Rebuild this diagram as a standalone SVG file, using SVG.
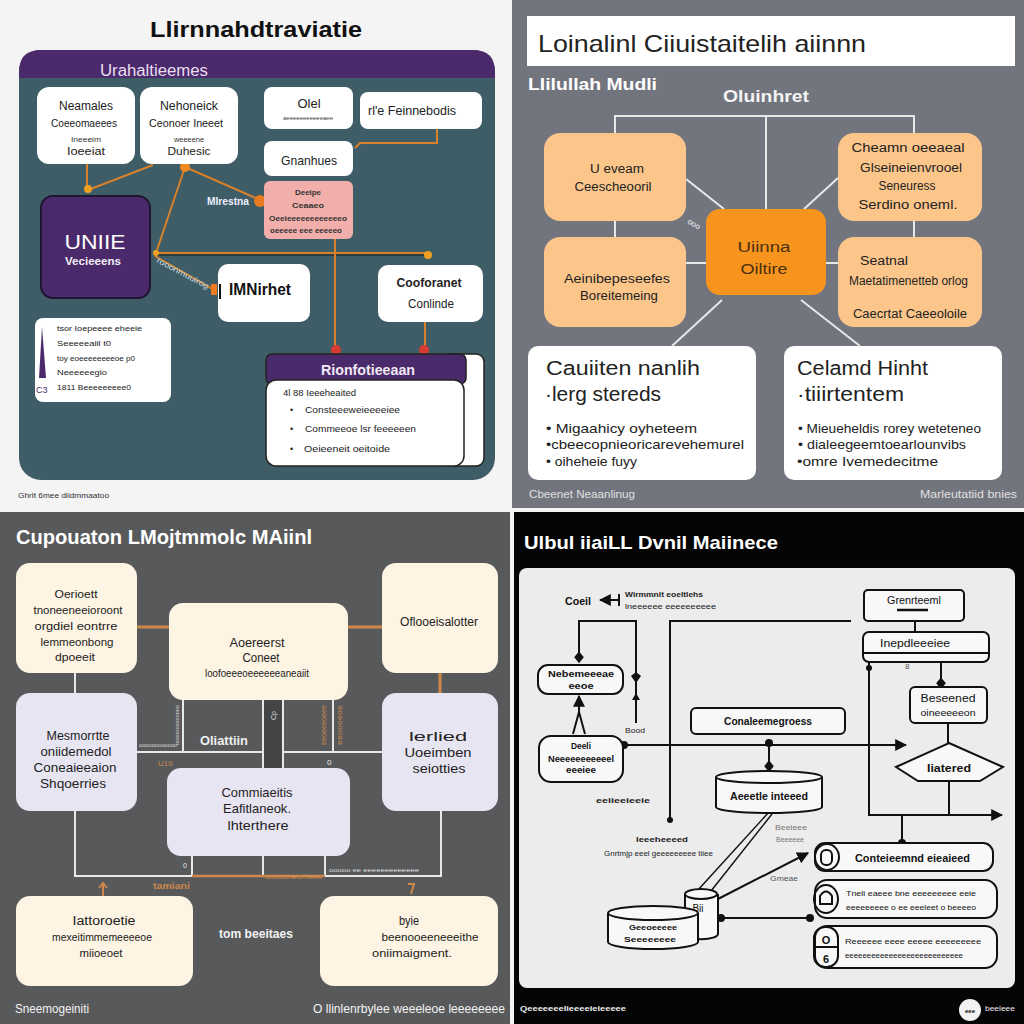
<svg xmlns="http://www.w3.org/2000/svg" width="1024" height="1024" viewBox="0 0 1024 1024">
<defs>
<style>
text{font-family:"Liberation Sans",Arial,sans-serif}
.b{font-weight:bold}
.m{text-anchor:middle}
.e{text-anchor:end}
.wn{fill:#fff}
.og{stroke:#d8812a;stroke-width:2;fill:none}
.wl{stroke:#e8e8e8;stroke-width:2;fill:none}
.ob{fill:#fcc68b}
.cr{fill:#fdf4e3}
.lv{fill:#e8e5f2}
.k{stroke:#111;stroke-width:2;fill:none}
.kb{stroke:#111;stroke-width:2;fill:#f8f8f8}
</style>
<marker id="ah" viewBox="0 0 10 10" refX="9" refY="5" markerWidth="6" markerHeight="6" orient="auto-start-reverse"><path d="M0,0 L10,5 L0,10 Z" fill="#111"/></marker>
<marker id="dot" viewBox="0 0 10 10" refX="5" refY="5" markerWidth="5" markerHeight="5"><circle cx="5" cy="5" r="4" fill="#111"/></marker>
<marker id="dia" viewBox="0 0 10 10" refX="9" refY="5" markerWidth="6" markerHeight="6" orient="auto"><path d="M0,5 L5,1 L10,5 L5,9 Z" fill="#111"/></marker>
</defs>

<!-- ============ Q1 ============ -->
<rect x="0" y="0" width="1024" height="1024" fill="#f4f4f4"/>
<g id="q1">
<text x="256" y="37" class="b m" font-size="22" fill="#111" textLength="212" lengthAdjust="spacingAndGlyphs">Llirnnahdtraviatie</text>
<rect x="19" y="50" width="476" height="430" rx="22" fill="#3e5d66"/>
<path d="M19,78 V72 Q19,50 41,50 H473 Q495,50 495,72 V78 Z" fill="#4b2a6b"/>
<text x="100" y="76" font-size="16" fill="#e8dff2" textLength="108" lengthAdjust="spacingAndGlyphs">Urahaltieemes</text>
</g>
<g id="q1-connectors">
<line x1="87" y1="164" x2="87" y2="188" class="og"/>
<line x1="88" y1="190" x2="153" y2="165" class="og"/>
<line x1="185" y1="167" x2="156" y2="253" class="og"/>
<line x1="185" y1="167" x2="258" y2="199" class="og"/>
<line x1="155" y1="255" x2="428" y2="255" stroke="#2a3a40" stroke-width="2"/>
<line x1="155" y1="253" x2="428" y2="253" class="og"/>
<line x1="155" y1="256" x2="214" y2="290" class="og"/>
<line x1="335" y1="239" x2="335" y2="350" class="og"/>
<line x1="425" y1="322" x2="425" y2="350" class="og"/>
<polyline points="437,129 437,143 360,143 355,148" class="og"/>
<circle cx="88" cy="189" r="4" fill="#f0a020"/>
<circle cx="185" cy="167" r="5" fill="#f08a20"/>
<circle cx="260" cy="201" r="6" fill="#e87a20"/>
<circle cx="156" cy="253" r="3" fill="#f0a020"/>
<circle cx="428" cy="255" r="4" fill="#f0a020"/>
<rect x="211" y="284" width="6" height="11" fill="#f07a20"/>
<circle cx="336" cy="350" r="5" fill="#d83a30"/>
<circle cx="424" cy="350" r="5" fill="#d83a30"/>
<text x="207" y="205" class="b" font-size="10" fill="#eef" textLength="42" lengthAdjust="spacingAndGlyphs">Mlrestna</text>
<text x="156" y="262" font-size="8" fill="#c8dce4" transform="rotate(28 156 262)" textLength="58" lengthAdjust="spacingAndGlyphs">rooonmuuirog</text>
</g>
<g id="q1-n-a">
<rect x="37" y="87" width="98" height="77" rx="12" fill="#fff"/>
<text x="86" y="110" class="m" font-size="12" fill="#222" textLength="54" lengthAdjust="spacingAndGlyphs">Neamales</text>
<text x="84" y="127" class="m" font-size="11" fill="#222" textLength="66" lengthAdjust="spacingAndGlyphs">Coeeomaeees</text>
<text x="86" y="142" class="m" font-size="7" fill="#333" textLength="30" lengthAdjust="spacingAndGlyphs">Ineeeim</text>
<text x="86" y="155" class="m" font-size="11" fill="#222" textLength="38" lengthAdjust="spacingAndGlyphs">Ioeeiat</text>
</g>
<g id="q1-n-b">
<rect x="140" y="87" width="98" height="77" rx="12" fill="#fff"/>
<text x="189" y="110" class="m" font-size="12" fill="#222" textLength="58" lengthAdjust="spacingAndGlyphs">Nehoneick</text>
<text x="186" y="127" class="m" font-size="11" fill="#222" textLength="74" lengthAdjust="spacingAndGlyphs">Ceonoer Ineeet</text>
<text x="189" y="142" class="m" font-size="7" fill="#333" textLength="30" lengthAdjust="spacingAndGlyphs">weeeene</text>
<text x="189" y="155" class="m" font-size="11" fill="#222" textLength="43" lengthAdjust="spacingAndGlyphs">Duhesic</text>
</g>
<g id="q1-n-c">
<rect x="264" y="87" width="89" height="42" rx="8" fill="#fff"/>
<text x="309" y="108" class="m" font-size="13" fill="#222">Olel</text>
<text x="308" y="120" class="m" font-size="6" fill="#444" textLength="50" lengthAdjust="spacingAndGlyphs">aeeeeeeeeeeeaee</text>
</g>
<g id="q1-n-d">
<rect x="360" y="92" width="122" height="37" rx="8" fill="#fff"/>
<text x="368" y="115" font-size="12" fill="#222" textLength="88" lengthAdjust="spacingAndGlyphs">rl'e Feinnebodis</text>
</g>
<g id="q1-n-e">
<rect x="264" y="141" width="89" height="35" rx="8" fill="#fff"/>
<text x="309" y="165" class="m" font-size="13" fill="#222" textLength="56" lengthAdjust="spacingAndGlyphs">Gnanhues</text>
</g>
<g id="q1-n-f">
<rect x="264" y="181" width="89" height="58" rx="6" fill="#f2aeaa"/>
<text x="308" y="195" class="m b" font-size="8" fill="#333" textLength="26" lengthAdjust="spacingAndGlyphs">Deeipe</text>
<text x="308" y="208" class="m b" font-size="8" fill="#333" textLength="32" lengthAdjust="spacingAndGlyphs">Ceaaeo</text>
<text x="308" y="221" class="m b" font-size="8" fill="#333" textLength="78" lengthAdjust="spacingAndGlyphs">Oeeieeeeeeeeeeeeo</text>
<text x="306" y="233" class="m b" font-size="8" fill="#333" textLength="72" lengthAdjust="spacingAndGlyphs">oeeeee eee eeeeeo</text>
</g>
<g id="q1-n-unite">
<rect x="41" y="196" width="109" height="102" rx="12" fill="#4b2a6b" stroke="#1f1530" stroke-width="2"/>
<text x="95" y="249" class="m" font-size="20" fill="#fff" textLength="61" lengthAdjust="spacingAndGlyphs">UNIIE</text>
<text x="93" y="265" class="m b" font-size="11" fill="#f2eef8" textLength="56" lengthAdjust="spacingAndGlyphs">Vecieeens</text>
</g>
<g id="q1-n-imn">
<rect x="218" y="264" width="92" height="58" rx="10" fill="#fff"/>
<rect x="219" y="284" width="2" height="15" fill="#111"/>
<text x="229" y="295" class="b" font-size="16" fill="#111" textLength="62" lengthAdjust="spacingAndGlyphs">IMNirhet</text>
</g>
<g id="q1-n-coo">
<rect x="378" y="265" width="105" height="57" rx="10" fill="#fff"/>
<text x="429" y="287" class="m b" font-size="12" fill="#222" textLength="65" lengthAdjust="spacingAndGlyphs">Cooforanet</text>
<text x="431" y="308" class="m" font-size="12" fill="#222" textLength="46" lengthAdjust="spacingAndGlyphs">Conlinde</text>
</g>
<g id="q1-n-legend">
<rect x="35" y="318" width="136" height="84" rx="8" fill="#fff"/>
<polygon points="42,327 39,378 46,378" fill="#4b2a6b"/>
<text x="36" y="393" font-size="9" fill="#4b2a6b">C3</text>
<text x="57" y="331" font-size="8" fill="#222" textLength="85" lengthAdjust="spacingAndGlyphs">tsor Ioepeeee eheeie</text>
<text x="57" y="346" font-size="8" fill="#222" textLength="54" lengthAdjust="spacingAndGlyphs">Seeeeeaiil t0</text>
<text x="57" y="361" font-size="8" fill="#222" textLength="78" lengthAdjust="spacingAndGlyphs">toy eoeeeeeeeeoe p0</text>
<text x="57" y="375" font-size="8" fill="#222" textLength="50" lengthAdjust="spacingAndGlyphs">Neeeeeegio</text>
<text x="57" y="390" font-size="8" fill="#222" textLength="74" lengthAdjust="spacingAndGlyphs">1811 Beeeeeeeee0</text>
</g>
<g id="q1-n-rion">
<rect x="440" y="354" width="44" height="112" rx="8" fill="#fff" stroke="#222" stroke-width="1.5"/>
<rect x="266" y="354" width="200" height="30" rx="6" fill="#4b2a6b" stroke="#222" stroke-width="1.5"/>
<rect x="266" y="380" width="198" height="86" rx="10" fill="#fff" stroke="#222" stroke-width="1.5"/>
<text x="368" y="375" class="m b" font-size="14" fill="#f0e8f4" textLength="94" lengthAdjust="spacingAndGlyphs">Rionfotieeaan</text>
<text x="283" y="396" font-size="9" fill="#222" textLength="73" lengthAdjust="spacingAndGlyphs">4l 88 Ieeeheaited</text>
<text x="290" y="413" font-size="9" fill="#222">•</text>
<text x="305" y="413" font-size="9" fill="#222" textLength="95" lengthAdjust="spacingAndGlyphs">Consteeeweieeeeiee</text>
<text x="290" y="432" font-size="9" fill="#222">•</text>
<text x="305" y="432" font-size="9" fill="#222" textLength="111" lengthAdjust="spacingAndGlyphs">Commeeoe lsr feeeeeen</text>
<text x="290" y="452" font-size="9" fill="#222">•</text>
<text x="304" y="452" font-size="9" fill="#222" textLength="86" lengthAdjust="spacingAndGlyphs">Oeieeneit oeitoide</text>
</g>
<text x="18" y="498" font-size="8" fill="#333" textLength="91" lengthAdjust="spacingAndGlyphs">Ghrlt 6mee dlidmmaatoo</text>

<!-- ============ Q2 ============ -->
<g id="q2">
<rect x="512" y="0" width="512" height="508" fill="#72757e"/>
<rect x="527" y="16" width="488" height="50" fill="#fff"/>
<text x="538" y="52" font-size="24" fill="#222" textLength="328" lengthAdjust="spacingAndGlyphs">Loinalinl Ciiuistaitelih aiinnn</text>
<text x="528" y="90" class="b" font-size="17" fill="#fff" textLength="129" lengthAdjust="spacingAndGlyphs">Llilullah Mudli</text>
<text x="766" y="102" class="b m" font-size="16" fill="#f4f4f4" textLength="86" lengthAdjust="spacingAndGlyphs">Oluinhret</text>
</g>
<g id="q2-connectors">
<polyline points="615,133 615,116 914,116 914,133" class="wl"/>
<line x1="766" y1="116" x2="766" y2="209" class="wl"/>
<line x1="686" y1="179" x2="724" y2="209" class="wl"/>
<line x1="804" y1="209" x2="838" y2="178" class="wl"/>
<line x1="615" y1="221" x2="615" y2="237" class="wl"/>
<line x1="914" y1="221" x2="914" y2="237" class="wl"/>
<line x1="686" y1="263" x2="706" y2="263" class="wl"/>
<line x1="826" y1="263" x2="838" y2="263" class="wl"/>
<line x1="722" y1="300" x2="672" y2="346" class="wl"/>
<line x1="801" y1="300" x2="860" y2="346" class="wl"/>
<text x="687" y="223" font-size="8" fill="#eee" transform="rotate(30 687 223)">ooo</text>
</g>
<g id="q2-n-tl">
<rect x="544" y="133" width="142" height="88" rx="16" class="ob"/>
<text x="617" y="173" class="m" font-size="12" fill="#222" textLength="54" lengthAdjust="spacingAndGlyphs">U eveam</text>
<text x="613" y="191" class="m" font-size="12" fill="#222" textLength="77" lengthAdjust="spacingAndGlyphs">Ceescheooril</text>
</g>
<g id="q2-n-tr">
<rect x="838" y="133" width="144" height="88" rx="16" class="ob"/>
<text x="908" y="152" class="m" font-size="12" fill="#222" textLength="113" lengthAdjust="spacingAndGlyphs">Cheamn oeeaeal</text>
<text x="911" y="172" class="m" font-size="12" fill="#222" textLength="102" lengthAdjust="spacingAndGlyphs">Glseineienvrooel</text>
<text x="907" y="190" class="m" font-size="12" fill="#222" textLength="57" lengthAdjust="spacingAndGlyphs">Seneuress</text>
<text x="908" y="209" class="m" font-size="12" fill="#222" textLength="99" lengthAdjust="spacingAndGlyphs">Serdino oneml.</text>
</g>
<g id="q2-n-center">
<rect x="706" y="209" width="120" height="86" rx="14" fill="#f7941d"/>
<text x="764" y="252" class="m" font-size="14" fill="#4a3010" textLength="53" lengthAdjust="spacingAndGlyphs">Uiinna</text>
<text x="764" y="274" class="m" font-size="14" fill="#4a3010" textLength="47" lengthAdjust="spacingAndGlyphs">Oiltire</text>
</g>
<g id="q2-n-ml">
<rect x="544" y="237" width="142" height="90" rx="16" class="ob"/>
<text x="617" y="283" class="m" font-size="12" fill="#222" textLength="106" lengthAdjust="spacingAndGlyphs">Aeinibepeseefes</text>
<text x="619" y="300" class="m" font-size="12" fill="#222" textLength="78" lengthAdjust="spacingAndGlyphs">Boreitemeing</text>
</g>
<g id="q2-n-mr">
<rect x="838" y="237" width="144" height="90" rx="16" class="ob"/>
<text x="860" y="265" font-size="12" fill="#222" textLength="48" lengthAdjust="spacingAndGlyphs">Seatnal</text>
<text x="849" y="285" font-size="12" fill="#222" textLength="119" lengthAdjust="spacingAndGlyphs">Maetatimenetteb orlog</text>
<text x="853" y="318" font-size="12" fill="#222" textLength="114" lengthAdjust="spacingAndGlyphs">Caecrtat Caeeoloile</text>
</g>
<g id="q2-n-bl">
<rect x="528" y="346" width="228" height="134" rx="10" fill="#fff"/>
<text x="546" y="375" font-size="20" fill="#222" textLength="154" lengthAdjust="spacingAndGlyphs">Cauiiten  nanlih</text>
<text x="545" y="401" font-size="20" fill="#222" textLength="116" lengthAdjust="spacingAndGlyphs">·lerg stereds</text>
<text x="546" y="433" font-size="13" fill="#222" textLength="151" lengthAdjust="spacingAndGlyphs">• Migaahicy oyheteem</text>
<text x="546" y="449" font-size="13" fill="#222" textLength="198" lengthAdjust="spacingAndGlyphs">•cbeecopnieoricarevehemurel</text>
<text x="546" y="466" font-size="13" fill="#222" textLength="91" lengthAdjust="spacingAndGlyphs">• oiheheie fuyy</text>
</g>
<g id="q2-n-br">
<rect x="784" y="346" width="218" height="134" rx="10" fill="#fff"/>
<text x="797" y="375" font-size="20" fill="#222" textLength="131" lengthAdjust="spacingAndGlyphs">Celamd Hinht</text>
<text x="797" y="401" font-size="20" fill="#222" textLength="107" lengthAdjust="spacingAndGlyphs">·tiiirtentem</text>
<text x="798" y="433" font-size="13" fill="#222" textLength="183" lengthAdjust="spacingAndGlyphs">• Mieueheldis rorey weteteneo</text>
<text x="798" y="449" font-size="13" fill="#222" textLength="168" lengthAdjust="spacingAndGlyphs">• dialeegeemtoearlounvibs</text>
<text x="797" y="466" font-size="13" fill="#222" textLength="141" lengthAdjust="spacingAndGlyphs">•omre Ivemedecitme</text>
</g>
<text x="529" y="498" font-size="11" fill="#e0e0e0" textLength="106" lengthAdjust="spacingAndGlyphs">Cbeenet Neaanlinug</text>
<text x="1017" y="498" class="e" font-size="11" fill="#e0e0e0" textLength="97" lengthAdjust="spacingAndGlyphs">Marleutatiid bnies</text>

<!-- ============ Q3 ============ -->
<g id="q3">
<rect x="0" y="512" width="510" height="512" fill="#58595b"/>
<text x="16" y="544" class="b" font-size="20" fill="#fff" textLength="296" lengthAdjust="spacingAndGlyphs">Cupouaton LMojtmmolc MAiinl</text>
</g>
<g id="q3-connectors">
<rect x="263" y="700" width="20" height="68" fill="#444547"/>
<line x1="137" y1="627" x2="169" y2="627" stroke="#d0884a" stroke-width="3"/>
<line x1="348" y1="627" x2="382" y2="627" stroke="#d0884a" stroke-width="3"/>
<line x1="440" y1="673" x2="440" y2="693" stroke="#d0884a" stroke-width="3"/>
<line x1="75" y1="673" x2="75" y2="693" class="wl"/>
<polyline points="137,752 183,752 183,700" class="wl"/>
<polyline points="183,752 263,752" class="wl"/>
<line x1="263" y1="700" x2="263" y2="768" class="wl"/>
<line x1="283" y1="700" x2="283" y2="768" class="wl"/>
<polyline points="283,752 333,752 333,700" class="wl"/>
<line x1="333" y1="752" x2="382" y2="752" class="wl"/>
<polyline points="75,811 75,876 192,876 192,856" class="wl"/>
<line x1="263" y1="856" x2="263" y2="876" class="wl"/>
<polyline points="325,856 325,876 441,876 441,811" class="wl"/>
<line x1="192" y1="876" x2="325" y2="876" stroke="#d0884a" stroke-width="2.5"/>
<text x="200" y="745" class="b" font-size="12" fill="#f0f0f0" textLength="48" lengthAdjust="spacingAndGlyphs">Oliattiin</text>
<text x="139" y="747" font-size="6" fill="#ddd" textLength="38" lengthAdjust="spacingAndGlyphs">oooooooooooo</text>
<text x="179" y="745" font-size="6" fill="#ddd" transform="rotate(-90 179 745)" textLength="40" lengthAdjust="spacingAndGlyphs">ooooooooooooo</text>
<text x="276" y="720" font-size="7" fill="#ddd" transform="rotate(-90 276 720)">Cp</text>
<text x="326" y="745" font-size="7" fill="#d0884a" transform="rotate(-90 326 745)" textLength="40" lengthAdjust="spacingAndGlyphs">eeoeeeoeee</text>
<text x="342" y="745" font-size="7" fill="#d0884a" transform="rotate(-90 342 745)" textLength="40" lengthAdjust="spacingAndGlyphs">eeooeeoe</text>
<text x="158" y="766" font-size="8" fill="#d0884a">U10</text>
<text x="327" y="765" font-size="8" fill="#eee">0</text>
<text x="183" y="868" font-size="7" fill="#eee">0</text>
<text x="265" y="879" font-size="6" fill="#d0884a" textLength="57" lengthAdjust="spacingAndGlyphs">ooooonecrnees</text>
<text x="329" y="872" font-size="6" fill="#ddd" textLength="90" lengthAdjust="spacingAndGlyphs">ooooo ee eeeeeeeeeeeee</text>
<path d="M103,896 V884 M99,888 L103,883 L107,888" stroke="#d0884a" stroke-width="2" fill="none"/>
<text x="153" y="889" class="b" font-size="9" fill="#d0884a" textLength="37" lengthAdjust="spacingAndGlyphs">tamiani</text>
<path d="M408,884 H414 L411,894" stroke="#d0884a" stroke-width="2" fill="none"/>
</g>
<g id="q3-n-tl">
<rect x="16" y="563" width="121" height="110" rx="14" class="cr"/>
<text x="76" y="598" class="m" font-size="11" fill="#222" textLength="43" lengthAdjust="spacingAndGlyphs">Oerioett</text>
<text x="78" y="614" class="m" font-size="11" fill="#222" textLength="89" lengthAdjust="spacingAndGlyphs">tnoneeneeioroont</text>
<text x="76" y="630" class="m" font-size="11" fill="#222" textLength="83" lengthAdjust="spacingAndGlyphs">orgdiel eontrre</text>
<text x="77" y="646" class="m" font-size="11" fill="#222" textLength="73" lengthAdjust="spacingAndGlyphs">lemmeonbong</text>
<text x="75" y="661" class="m" font-size="11" fill="#222" textLength="40" lengthAdjust="spacingAndGlyphs">dpoeeit</text>
</g>
<g id="q3-n-tc">
<rect x="169" y="603" width="179" height="97" rx="14" class="cr"/>
<text x="257" y="647" class="m" font-size="12" fill="#222" textLength="55" lengthAdjust="spacingAndGlyphs">Aoereerst</text>
<text x="261" y="662" class="m" font-size="12" fill="#222" textLength="37" lengthAdjust="spacingAndGlyphs">Coneet</text>
<text x="257" y="677" class="m" font-size="11" fill="#222" textLength="104" lengthAdjust="spacingAndGlyphs">loofoeeeoeeeeeeaneaiit</text>
</g>
<g id="q3-n-tr">
<rect x="382" y="563" width="116" height="110" rx="14" class="cr"/>
<text x="439" y="626" class="m" font-size="12" fill="#222" textLength="78" lengthAdjust="spacingAndGlyphs">Oflooeisalotter</text>
</g>
<g id="q3-n-ml">
<rect x="16" y="693" width="121" height="118" rx="14" class="lv"/>
<text x="78" y="740" class="m" font-size="13" fill="#222" textLength="63" lengthAdjust="spacingAndGlyphs">Mesmorrtte</text>
<text x="76" y="756" class="m" font-size="13" fill="#222" textLength="71" lengthAdjust="spacingAndGlyphs">oniidemedol</text>
<text x="75" y="772" class="m" font-size="13" fill="#222" textLength="83" lengthAdjust="spacingAndGlyphs">Coneaieeaion</text>
<text x="73" y="788" class="m" font-size="13" fill="#222" textLength="66" lengthAdjust="spacingAndGlyphs">Shqoerries</text>
</g>
<g id="q3-n-mr">
<rect x="382" y="693" width="116" height="118" rx="14" class="lv"/>
<text x="438" y="741" class="m" font-size="13" fill="#222" textLength="58" lengthAdjust="spacingAndGlyphs">lerlied</text>
<text x="438" y="757" class="m" font-size="13" fill="#222" textLength="67" lengthAdjust="spacingAndGlyphs">Uoeimben</text>
<text x="439" y="773" class="m" font-size="13" fill="#222" textLength="53" lengthAdjust="spacingAndGlyphs">seiotties</text>
</g>
<g id="q3-n-c">
<rect x="167" y="768" width="183" height="88" rx="14" class="lv"/>
<text x="257" y="797" class="m" font-size="13" fill="#222" textLength="71" lengthAdjust="spacingAndGlyphs">Commiaeitis</text>
<text x="257" y="813" class="m" font-size="13" fill="#222" textLength="68" lengthAdjust="spacingAndGlyphs">Eafitlaneok.</text>
<text x="258" y="830" class="m" font-size="13" fill="#222" textLength="61" lengthAdjust="spacingAndGlyphs">lhterthere</text>
</g>
<g id="q3-n-bl">
<rect x="16" y="896" width="177" height="90" rx="14" class="cr"/>
<text x="104" y="925" class="m" font-size="12" fill="#222" textLength="63" lengthAdjust="spacingAndGlyphs">Iattoroetie</text>
<text x="102" y="941" class="m" font-size="11" fill="#222" textLength="100" lengthAdjust="spacingAndGlyphs">mexeitimmemeeeeoe</text>
<text x="101" y="957" class="m" font-size="11" fill="#222" textLength="43" lengthAdjust="spacingAndGlyphs">miioeoet</text>
</g>
<g id="q3-n-br">
<rect x="320" y="896" width="178" height="90" rx="14" class="cr"/>
<text x="409" y="925" class="m" font-size="12" fill="#222" textLength="20" lengthAdjust="spacingAndGlyphs">byie</text>
<text x="430" y="941" class="m" font-size="11" fill="#222" textLength="97" lengthAdjust="spacingAndGlyphs">beenooeeneeeithe</text>
<text x="412" y="957" class="m" font-size="11" fill="#222" textLength="80" lengthAdjust="spacingAndGlyphs">oniimaigment.</text>
</g>
<text x="256" y="938" class="m b" font-size="13" fill="#f2f2f2" textLength="74" lengthAdjust="spacingAndGlyphs">tom beeitaes</text>
<text x="15" y="1013" font-size="12" fill="#f2f2f2" textLength="74" lengthAdjust="spacingAndGlyphs">Sneemogeiniti</text>
<text x="505" y="1013" class="e" font-size="12" fill="#f2f2f2" textLength="192" lengthAdjust="spacingAndGlyphs">O llinlenrbylee weeeleoe leeeeeeee</text>

<!-- ============ Q4 ============ -->
<g id="q4">
<rect x="514" y="512" width="510" height="512" fill="#050505"/>
<text x="524" y="549" class="b" font-size="19" fill="#fff" textLength="254" lengthAdjust="spacingAndGlyphs">Ulbul  iiaiLL Dvnil Maiinece</text>
<rect x="519" y="568" width="496" height="420" rx="8" fill="#ececec"/>
</g>
<g id="q4-connectors">
<line x1="619" y1="600" x2="600" y2="600" class="k" marker-end="url(#ah)"/>
<line x1="619" y1="594" x2="619" y2="606" class="k"/>
<polyline points="579,660 579,621 636,621 636,723" class="k"/>
<line x1="579" y1="640" x2="579" y2="662" class="k" marker-end="url(#dia)"/>
<path d="M631,676 L636,683 L641,676 L636,672 Z M632,700 L636,693 L640,700 Z" fill="#111"/>
<polyline points="851,621 670,621 670,820" class="k"/>
<circle cx="670" cy="820" r="3" fill="#111"/>
<line x1="915" y1="617" x2="915" y2="633" class="k"/>
<polyline points="573,734 579,712 585,734" class="k"/>
<line x1="579" y1="712" x2="579" y2="696" class="k" marker-end="url(#ah)"/>
<line x1="624" y1="745" x2="906" y2="745" class="k" marker-start="url(#dot)" marker-end="url(#ah)"/>
<line x1="769" y1="743" x2="769" y2="771" class="k" marker-start="url(#dot)" marker-end="url(#dia)"/>
<line x1="941" y1="662" x2="941" y2="688" class="k" marker-end="url(#dia)"/>
<line x1="948" y1="723" x2="948" y2="743" class="k"/>
<line x1="949" y1="781" x2="949" y2="815" class="k"/>
<polyline points="869,662 869,815 1002,815" class="k" marker-end="url(#ah)"/>
<circle cx="869" cy="668" r="3" fill="#111"/>
<line x1="902" y1="815" x2="902" y2="843" class="k" marker-end="url(#dot)"/>
<line x1="769" y1="812" x2="698" y2="890" stroke="#111" stroke-width="1.5"/>
<line x1="772" y1="814" x2="711" y2="891" stroke="#111" stroke-width="1.5"/>
<line x1="718" y1="899" x2="808" y2="853" class="k" marker-end="url(#ah)"/>
<line x1="721" y1="918" x2="810" y2="918" class="k" marker-start="url(#dot)" marker-end="url(#dot)"/>
<text x="625" y="597" class="b" font-size="8" fill="#222" textLength="78" lengthAdjust="spacingAndGlyphs">Wirmmnlt eoeltlehs</text>
<text x="625" y="609" font-size="8" fill="#222" textLength="91" lengthAdjust="spacingAndGlyphs">lneeeeee eeeeeeeeee</text>
<text x="625" y="733" font-size="8" fill="#222" textLength="20" lengthAdjust="spacingAndGlyphs">Bood</text>
<text x="596" y="803" class="b" font-size="8" fill="#222" textLength="54" lengthAdjust="spacingAndGlyphs">eeiieeieeie</text>
<text x="636" y="842" class="b" font-size="8" fill="#222" textLength="52" lengthAdjust="spacingAndGlyphs">Ieeeheeeed</text>
<text x="604" y="856" font-size="8" fill="#222" textLength="109" lengthAdjust="spacingAndGlyphs">Gnrtmjp eeel geeeeeeeee tiiee</text>
<text x="775" y="830" font-size="8" fill="#777" textLength="32" lengthAdjust="spacingAndGlyphs">Beeieee</text>
<text x="776" y="842" font-size="8" fill="#777" textLength="28" lengthAdjust="spacingAndGlyphs">Beeeeee</text>
<text x="770" y="881" font-size="8" fill="#555" textLength="28" lengthAdjust="spacingAndGlyphs">Gmeae</text>
<text x="905" y="669" font-size="8" fill="#555">8</text>
</g>
<g id="q4-n-coeil">
<text x="565" y="605" class="b" font-size="11" fill="#111" textLength="26" lengthAdjust="spacingAndGlyphs">Coeil</text>
</g>
<g id="q4-n-gren">
<rect x="864" y="590" width="100" height="31" rx="4" class="kb"/>
<text x="914" y="604" class="m" font-size="10" fill="#111" textLength="54" lengthAdjust="spacingAndGlyphs">Grenrteeml</text>
<line x1="897" y1="610" x2="928" y2="610" stroke="#111" stroke-width="2.5"/>
</g>
<g id="q4-n-inep">
<rect x="863" y="632" width="126" height="30" rx="6" class="kb"/>
<line x1="863" y1="653" x2="989" y2="653" class="k"/>
<text x="915" y="647" class="m" font-size="10" fill="#111" textLength="70" lengthAdjust="spacingAndGlyphs">Inepdleeeiee</text>
</g>
<g id="q4-n-bese">
<rect x="910" y="687" width="77" height="36" rx="5" class="kb"/>
<text x="948" y="702" class="m" font-size="10" fill="#111" textLength="55" lengthAdjust="spacingAndGlyphs">Beseened</text>
<text x="948" y="716" class="m" font-size="9" fill="#111" textLength="55" lengthAdjust="spacingAndGlyphs">oineeeeeon</text>
</g>
<g id="q4-n-hex">
<polygon points="949,743 1003,767 980,781 918,781 896,767" class="kb"/>
<text x="949" y="772" class="m b" font-size="11" fill="#111" textLength="44" lengthAdjust="spacingAndGlyphs">Iiatered</text>
</g>
<g id="q4-n-nebe">
<rect x="538" y="665" width="85" height="29" rx="10" class="kb"/>
<text x="581" y="677" class="m b" font-size="9" fill="#111" textLength="66" lengthAdjust="spacingAndGlyphs">Nebemeeeae</text>
<text x="581" y="689" class="m b" font-size="9" fill="#111" textLength="25" lengthAdjust="spacingAndGlyphs">eeoe</text>
</g>
<g id="q4-n-dsdt">
<rect x="539" y="736" width="84" height="46" rx="12" class="kb"/>
<text x="581" y="749" class="m b" font-size="9" fill="#111" textLength="20" lengthAdjust="spacingAndGlyphs">Deeli</text>
<text x="581" y="762" class="m b" font-size="9" fill="#111" textLength="66" lengthAdjust="spacingAndGlyphs">Neeeeeeeeeeel</text>
<text x="581" y="773" class="m b" font-size="9" fill="#111" textLength="30" lengthAdjust="spacingAndGlyphs">eeeiee</text>
</g>
<g id="q4-n-cona">
<rect x="691" y="708" width="154" height="26" rx="5" class="kb"/>
<text x="768" y="725" class="m b" font-size="11" fill="#111" textLength="88" lengthAdjust="spacingAndGlyphs">Conaleemegroess</text>
</g>
<g id="q4-n-aeee">
<path d="M716,777 V807 A53,6 0 0 0 822,807 V777" class="kb"/>
<ellipse cx="769" cy="777" rx="53" ry="6" class="kb"/>
<text x="769" y="800" class="m b" font-size="10" fill="#111" textLength="78" lengthAdjust="spacingAndGlyphs">Aeeetle inteeed</text>
</g>
<g id="q4-n-bii">
<path d="M685,894 V934 A16,5 0 0 0 718,934 V894" class="kb"/>
<ellipse cx="701" cy="894" rx="16" ry="5" class="kb"/>
<text x="698" y="912" class="m" font-size="10" fill="#111">Bii</text>
</g>
<g id="q4-n-geeo">
<path d="M608,913 V942 A45,7 0 0 0 698,942 V913" class="kb"/>
<ellipse cx="653" cy="913" rx="45" ry="7" class="kb"/>
<text x="653" y="930" class="m b" font-size="8" fill="#111" textLength="48" lengthAdjust="spacingAndGlyphs">Geeoeeeee</text>
<text x="650" y="942" class="m b" font-size="8" fill="#111" textLength="52" lengthAdjust="spacingAndGlyphs">Seeeeeeee</text>
</g>
<g id="q4-n-l1">
<rect x="815" y="843" width="178" height="28" rx="10" class="kb"/>
<ellipse cx="827" cy="857" rx="12" ry="13" class="k"/>
<rect x="821" y="850" width="11" height="15" rx="5" class="k"/>
<text x="855" y="862" class="b" font-size="11" fill="#111" textLength="115" lengthAdjust="spacingAndGlyphs">Conteieemnd eieaieed</text>
</g>
<g id="q4-n-l2">
<rect x="815" y="880" width="182" height="38" rx="12" class="kb"/>
<ellipse cx="826" cy="899" rx="12" ry="14" class="k"/>
<path d="M820,904 V896 Q826,887 832,896 V904 Z" class="k"/>
<text x="846" y="896" font-size="8" fill="#111" textLength="130" lengthAdjust="spacingAndGlyphs">Tneli eaeee bne eeeeeeeee eeie</text>
<text x="846" y="910" font-size="8" fill="#111" textLength="130" lengthAdjust="spacingAndGlyphs">eeeeeeeee o ee eeeleet o beeeeo</text>
</g>
<g id="q4-n-l3">
<rect x="815" y="926" width="182" height="42" rx="12" class="kb"/>
<rect x="814" y="927" width="24" height="40" rx="11" class="k"/>
<line x1="814" y1="947" x2="838" y2="947" class="k"/>
<text x="826" y="944" class="m b" font-size="11" fill="#111">O</text>
<text x="826" y="963" class="m b" font-size="11" fill="#111">6</text>
<text x="845" y="944" font-size="8" fill="#111" textLength="136" lengthAdjust="spacingAndGlyphs">Reeeeee eeee eeeee eeeeeeeee</text>
<text x="845" y="958" font-size="8" fill="#111" textLength="118" lengthAdjust="spacingAndGlyphs">eeeeeeeeeeeeeeeeeeeeeeeeeee</text>
</g>
<text x="520" y="1011" class="b" font-size="8" fill="#eee" textLength="106" lengthAdjust="spacingAndGlyphs">Qeeeeeeelieeeeieieeeee</text>
<circle cx="970" cy="1010" r="11" fill="#f2f2f2"/>
<text x="970" y="1013" class="m b" font-size="6" fill="#111">eee</text>
<text x="985" y="1011" font-size="8" fill="#eee" textLength="30" lengthAdjust="spacingAndGlyphs">beeleee</text>
</svg>
